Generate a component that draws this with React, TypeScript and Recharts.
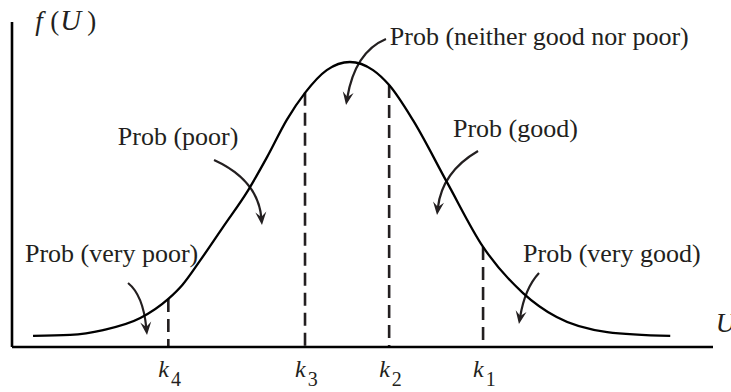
import React from 'react';
import { LineChart, Line, XAxis, YAxis, ReferenceLine, ReferenceArea } from 'recharts';

// Density curve (U on 0..100, f(U) on 0..100)
const curveU = [3.0, 8.3, 13.0, 18.3, 22.3, 24.3, 26.8, 30.1, 33.7, 36.4, 39.2, 41.8, 44.9, 48.2, 51.5, 53.8, 57.2, 62.1, 67.2, 72.9, 77.7, 84.9, 93.9];
const curveF = [3.4, 3.7, 5.2, 8.9, 14.8, 19.1, 26.5, 36.9, 48.3, 58.5, 69.9, 78.2, 85.2, 87.7, 85.2, 80.6, 69.8, 50.5, 30.8, 16.6, 9.2, 4.6, 3.4];

// Thresholds k4..k1
const thresholdSubs = ['4', '3', '2', '1'];
const thresholdU = [22.3, 41.8, 53.8, 67.2];
const thresholdTop = [14.8, 78.2, 80.6, 30.8];

// Region labels
const labelTexts = ['Prob (very poor)', 'Prob (poor)', 'Prob (neither good nor poor)', 'Prob (good)', 'Prob (very good)'];
const labelU = [1.85, 15.1, 53.9, 62.9, 72.9];
const labelF = [26.2, 62.2, 92.9, 64.6, 26.2];

// Arrows: start, control, tip (data coordinates)
const arrowStart = [[16.55, 19.69], [28.82, 57.54], [53.35, 94.77], [66.48, 60.31], [75.18, 22.77]];
const arrowCtrl = [[18.69, 16.0], [35.09, 51.38], [48.93, 90.77], [61.34, 53.85], [73.18, 18.15]];
const arrowTip = [[19.26, 3.69], [35.66, 37.54], [47.65, 74.46], [60.63, 40.62], [72.32, 7.08]];

const data = curveU.map((u, i) => ({ u, f: curveF[i] }));

const FONT = "'Liberation Serif', 'Times New Roman', Times, serif";
const INK = '#231f20';

const KTick = (props: any) => {
  const { x, y, index } = props;
  return (
    <text x={x - 10} y={y + 22} fontFamily={FONT} fill={INK}>
      <tspan fontStyle="italic" fontSize={24}>k</tspan>
      <tspan fontSize={20} dx={2} dy={9}>{thresholdSubs[index]}</tspan>
    </text>
  );
};

const AnnotationLayer = (props: any) => {
  const { x, y, width, height } = props;
  const sx = (u: number) => x + (u / 100) * width;
  const sy = (f: number) => y + height - (f / 100) * height;
  const arrows = arrowStart.map((s, i) => {
    const S = [sx(s[0]), sy(s[1])];
    const C = [sx(arrowCtrl[i][0]), sy(arrowCtrl[i][1])];
    const T = [sx(arrowTip[i][0]), sy(arrowTip[i][1])];
    const dx = T[0] - C[0];
    const dy = T[1] - C[1];
    const len = Math.hypot(dx, dy) || 1;
    const ux = dx / len;
    const uy = dy / len;
    const nx = -uy;
    const ny = ux;
    const L = 13;
    const W = 11;
    const E = [T[0] - ux * L * 0.55, T[1] - uy * L * 0.55];
    const line = `M${S[0]},${S[1]} Q${C[0]},${C[1]} ${E[0]},${E[1]}`;
    const head = `M${T[0]},${T[1]} L${T[0] - ux * L + (nx * W) / 2},${T[1] - uy * L + (ny * W) / 2} L${T[0] - ux * L * 0.62},${T[1] - uy * L * 0.62} L${T[0] - ux * L - (nx * W) / 2},${T[1] - uy * L - (ny * W) / 2} Z`;
    return (
      <g key={`arrow-${i}`}>
        <path d={line} fill="none" stroke={INK} strokeWidth={2.2} />
        <path d={head} fill={INK} stroke="none" />
      </g>
    );
  });
  const fx = sx(3.3);
  const fy = sy(97.5);
  return (
    <g>
      {labelTexts.map((t, i) => (
        <text key={`lbl-${i}`} x={sx(labelU[i])} y={sy(labelF[i])} fontFamily={FONT} fontSize={26} fill={INK}>
          {t}
        </text>
      ))}
      {arrows}
      <text y={fy} fontFamily={FONT} fontSize={27} fill={INK}>
        <tspan x={fx} fontStyle="italic">f</tspan>
        <tspan x={fx + 15}>(</tspan>
        <tspan x={fx + 25} fontStyle="italic" fontSize={29}>U</tspan>
        <tspan x={fx + 52}>)</tspan>
      </text>
      <text x={sx(100.4)} y={sy(4.5)} fontFamily={FONT} fontSize={27} fontStyle="italic" fill={INK}>
        U
      </text>
    </g>
  );
};

export default function App() {
  return (
    <div style={{ position: 'absolute', left: 0, top: 0, width: 731, height: 392, background: '#fff' }}>
      <LineChart width={731} height={392} data={data} margin={{ top: 22, right: 18, bottom: 15, left: 11 }}>
        <XAxis
          type="number"
          dataKey="u"
          domain={[0, 100]}
          ticks={thresholdU}
          interval={0}
          tick={<KTick />}
          tickLine={false}
          height={30}
          axisLine={{ stroke: '#000', strokeWidth: 2.6 }}
          allowDataOverflow
        />
        <YAxis
          type="number"
          domain={[0, 100]}
          width={1}
          tick={false}
          tickLine={false}
          axisLine={{ stroke: '#000', strokeWidth: 2.6 }}
          allowDataOverflow
        />
        {thresholdU.map((k, i) => (
          <ReferenceLine
            key={`k-${i}`}
            segment={[{ x: k, y: thresholdTop[i] }, { x: k, y: 0 }]}
            stroke={INK}
            strokeWidth={2.6}
            strokeDasharray="13 7"
            ifOverflow="visible"
          />
        ))}
        <Line type="monotone" dataKey="f" stroke="#000" strokeWidth={2.3} dot={false} isAnimationActive={false} />
        <ReferenceArea x1={0} x2={100} y1={0} y2={100} ifOverflow="visible" shape={(p: any) => <AnnotationLayer {...p} />} />
      </LineChart>
    </div>
  );
}
